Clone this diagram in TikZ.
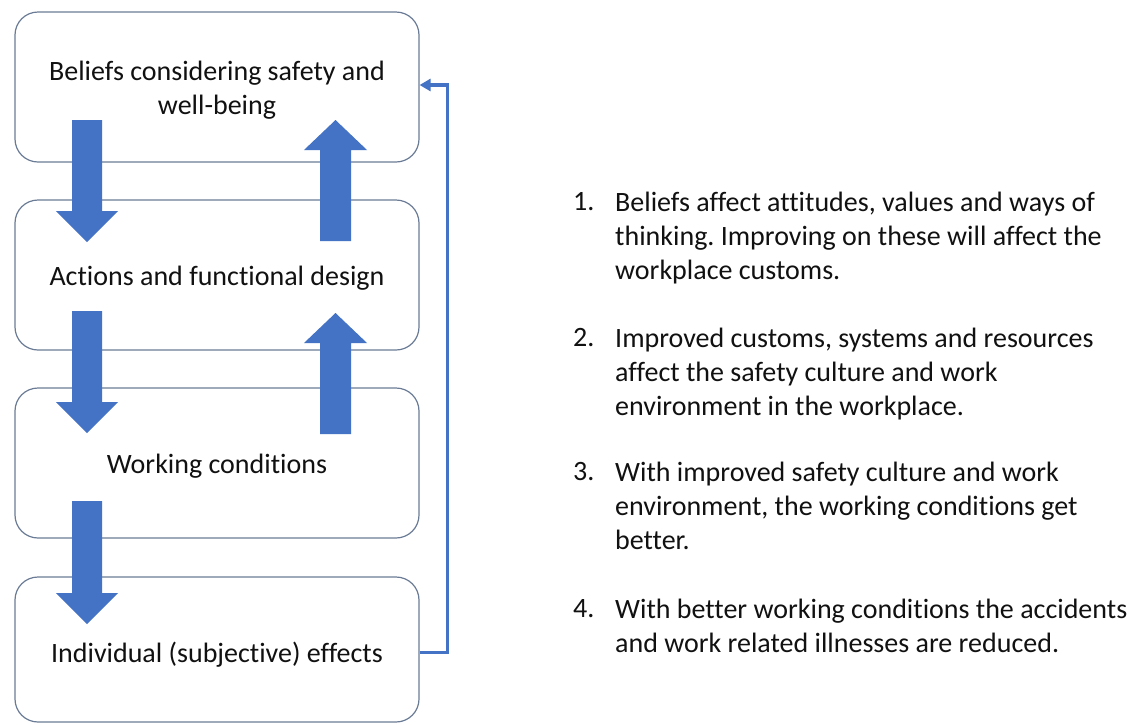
\documentclass[tikz,border=0pt]{standalone}
\usepackage{fontspec}
\setmainfont{Carlito}[Ligatures=NoCommon]
\usetikzlibrary{arrows.meta}
\definecolor{blk}{HTML}{4472C4}
\definecolor{bord}{HTML}{6A7B95}
\definecolor{txt}{HTML}{111111}
\newcommand{\blkdown}[4]{% cx, shaft top, head base, tip
  \fill[blk] (#1-15,#2) -- (#1+15,#2) -- (#1+15,#3) -- (#1+31,#3) -- (#1,#4) -- (#1-31,#3) -- (#1-15,#3) -- cycle;}
\newcommand{\blkup}[4]{% cx, shaft bottom, head base, tip
  \fill[blk] (#1-15.5,#2) -- (#1+15.5,#2) -- (#1+15.5,#3) -- (#1+31.5,#3) -- (#1,#4) -- (#1-31.5,#3) -- (#1-15.5,#3) -- cycle;}
\begin{document}
\frenchspacing
\begin{tikzpicture}[x=1pt,y=-1pt,
  box/.style={draw=bord, line width=1.2pt, rounded corners=23pt, minimum width=404pt, inner sep=0pt},
  boxtext/.style={inner sep=0pt, align=center, text=txt, font=\fontsize{28}{34}\selectfont, yshift=-3pt},
  fb/.style={draw=blk, line width=3.5pt, -{Triangle[length=11pt,width=12pt]}},
  num/.style={anchor=north west, inner sep=0pt, text=txt, font=\fontsize{28}{34}\selectfont},
  item/.style={anchor=north west, inner sep=0pt, text=txt, align=left, font=\fontsize{28}{34}\selectfont}]
\useasboundingbox (0,0) rectangle (1144,724);
\fill[white] (0,0) rectangle (1144,724);
% boxes
\node[box, minimum height=150pt] (b1) at (217,87) {};
\node[box, minimum height=150pt] (b2) at (217,275) {};
\node[box, minimum height=150pt] (b3) at (217,463) {};
\node[box, minimum height=145pt] (b4) at (217,649.5) {};
\node[boxtext] (l1) at (b1.center) {Beliefs considering safety and\\well-being};
\node[boxtext] (l2) at (b2.center) {Actions and functional design};
\node[boxtext] (l3) at (b3.center) {Working conditions};
\node[boxtext, yshift=-2pt] (l4) at (b4.center) {Individual (subjective) effects};
% block arrows
\blkdown{87}{120}{211}{242}
\blkdown{87}{311}{402}{433}
\blkdown{87}{501}{593}{624}
\blkup{335.5}{241}{150}{120}
\blkup{335.5}{434}{343}{313}
% feedback
\coordinate (fbout) at ([yshift=-3pt]b4.east);
\coordinate (fbin) at ([yshift=2pt]b1.east);
\draw[fb] (fbout) -- ++(28,0) |- (fbin);
% list
\node[num] (n1) at (573,192) {1.};
\node[item] (t1) at (615,192) {Beliefs affect attitudes, values and ways of\\thinking. Improving on these will affect the\\workplace customs.};
\node[num] (n2) at (573,328) {2.};
\node[item] (t2) at (615,328) {Improved customs, systems and resources\\affect the safety culture and work\\environment in the workplace.};
\node[num] (n3) at (573,462) {3.};
\node[item] (t3) at (615,462) {With improved safety culture and work\\environment, the working conditions get\\better.};
\node[num] (n4) at (573,599) {4.};
\node[item] (t4) at (615,599) {With better working conditions the accidents\\and work related illnesses are reduced.};
\end{tikzpicture}
\end{document}
